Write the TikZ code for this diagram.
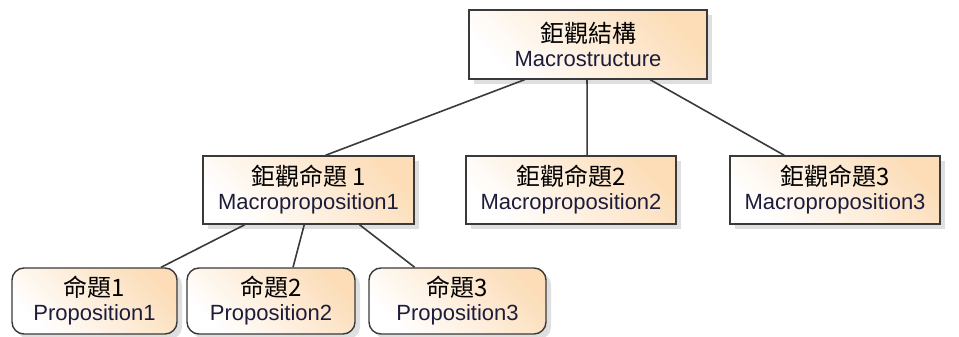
\documentclass[tikz,border=0pt]{standalone}
\usepackage{fontspec}
\setmainfont{Liberation Sans}
\newfontfamily\cjk{Noto Sans CJK TC}
\usetikzlibrary{shadows,calc}
\definecolor{peach}{HTML}{FCDDB8}
\definecolor{edgec}{HTML}{3A3A3A}
\definecolor{txt}{HTML}{1C1C3C}
\tikzset{
  boxbase/.style={draw=edgec, line width=1.4pt, shading=axis, left color=white, right color=peach, shading angle=135,
    drop shadow={opacity=0.25, shadow xshift=5pt, shadow yshift=-5pt, fill=gray},
    align=center, inner sep=0pt, text=txt, font=\fontsize{22}{24}\selectfont},
  sqbox/.style={boxbase},
  rdbox/.style={boxbase, rounded corners=12pt},
  conn/.style={draw=edgec, line width=1.6pt}
}
\newcommand{\zhline}[1]{{\cjk\fontsize{24}{24}\selectfont\color{black}#1}}
\begin{document}
\begin{tikzpicture}[x=1pt,y=-1pt]
\useasboundingbox (0,0) rectangle (959,337);
\node[sqbox, minimum width=238pt, minimum height=69pt] (top) at (588,44.5) {\zhline{鉅觀結構}\\Macrostructure};
\node[sqbox, minimum width=211pt, minimum height=68pt] (mp1) at (308.5,190) {\zhline{鉅觀命題 1}\\Macroproposition1};
\node[sqbox, minimum width=210pt, minimum height=68pt] (mp2) at (571,190) {\zhline{鉅觀命題2}\\Macroproposition2};
\node[sqbox, minimum width=210pt, minimum height=68pt] (mp3) at (835,190) {\zhline{鉅觀命題3}\\Macroproposition3};
\node[rdbox, minimum width=165pt, minimum height=66pt] (p1) at (94.5,301) {\zhline{命題1}\\Proposition1};
\node[rdbox, minimum width=168pt, minimum height=66pt] (p2) at (271,301) {\zhline{命題2}\\Proposition2};
\node[rdbox, minimum width=177pt, minimum height=66pt] (p3) at (457.5,301) {\zhline{命題3}\\Proposition3};
\draw[conn] ($(top.south west)!0.235!(top.south east)$) -- ($(mp1.north west)!0.58!(mp1.north east)$);
\draw[conn] ($(top.south west)!0.496!(top.south east)$) -- ($(mp2.north west)!0.576!(mp2.north east)$);
\draw[conn] ($(top.south west)!0.76!(top.south east)$) -- ($(mp3.north west)!0.26!(mp3.north east)$);
\draw[conn] ($(mp1.south west)!0.2!(mp1.south east)$) -- ($(p1.north west)!0.9!(p1.north east)$);
\draw[conn] ($(mp1.south west)!0.48!(mp1.south east)$) -- ($(p2.north west)!0.63!(p2.north east)$);
\draw[conn] ($(mp1.south west)!0.74!(mp1.south east)$) -- ($(p3.north west)!0.26!(p3.north east)$);
\end{tikzpicture}
\end{document}
